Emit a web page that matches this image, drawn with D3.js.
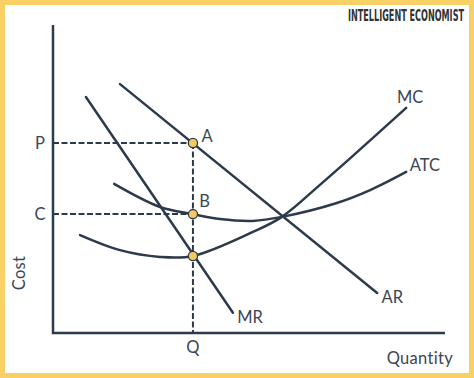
<!DOCTYPE html>
<html>
<head>
<meta charset="utf-8">
<script src="https://cdn.jsdelivr.net/npm/d3@7"></script>
<style>
  html, body { margin: 0; padding: 0; background: #fff; }
  svg { display: block; }
</style>
</head>
<body>
<div id="chart"></div>
<script>
// 曲線資料（以 0~100 的抽象單位表示）
const mcPoints = [[6.9, 31.8], [17.1, 26.9], [27.3, 24.7], [35.7, 25.0], [51.0, 32.8],
                  [58.4, 37.7], [68.1, 48.1], [76.5, 57.5], [90.1, 73.1]];
const atcPoints = [[15.6, 48.4], [27.3, 40.9], [35.7, 38.6], [42.6, 37.0], [51.0, 36.4],
                   [58.4, 37.7], [72.4, 42.2], [80.9, 46.4], [90.1, 52.3]];
const arPoints = [[17.1, 80.8], [82.7, 13.0]];
const mrPoints = [[8.4, 76.6], [45.9, 6.6]];

// 均衡點
const qValue = 35.7;
const pValue = 61.7;
const cValue = 38.6;
const mcAtQ = 25.0;

const curveLabels = [
  { text: "MC", x: 91.1, y: 76.6, anchor: "middle" },
  { text: "ATC", x: 91.0, y: 54.5, anchor: "start" },
  { text: "AR", x: 83.8, y: 11.7, anchor: "start" },
  { text: "MR", x: 47.0, y: 5.2, anchor: "start" }
];
const pointLabels = [
  { text: "A", x: 39.3, y: 63.8 },
  { text: "B", x: 38.7, y: 42.9 }
];

const width = 474, height = 378;
const ink = "#2c3a4b";
const textCol = "#3b4654";

const svg = d3.select("#chart").append("svg")
  .attr("width", width)
  .attr("height", height);

// 黃色外框
svg.append("rect")
  .attr("x", 2.5).attr("y", 2.5)
  .attr("width", width - 5).attr("height", height - 5)
  .attr("fill", "#fff")
  .attr("stroke", "#f8d066")
  .attr("stroke-width", 5);

const x = d3.scaleLinear().domain([0, 100]).range([53, 445]);
const y = d3.scaleLinear().domain([0, 100]).range([333, 25]);

const g = svg.append("g");

// 虛線
const dash = g.append("g")
  .attr("stroke", ink)
  .attr("stroke-width", 2)
  .attr("stroke-dasharray", "6,2.5")
  .attr("fill", "none");
dash.append("line").attr("x1", x(0)).attr("y1", y(pValue)).attr("x2", x(qValue)).attr("y2", y(pValue));
dash.append("line").attr("x1", x(0)).attr("y1", y(cValue)).attr("x2", x(qValue)).attr("y2", y(cValue));
dash.append("line").attr("x1", x(qValue)).attr("y1", y(pValue)).attr("x2", x(qValue)).attr("y2", y(0));

// 座標軸
g.append("path")
  .attr("d", `M${x(0)},${y(100)}V${y(0)}H${x(100)}`)
  .attr("fill", "none")
  .attr("stroke", ink)
  .attr("stroke-width", 2.5);

// 曲線
const smooth = d3.line().x(d => x(d[0])).y(d => y(d[1])).curve(d3.curveCatmullRom.alpha(0.5));
const straight = d3.line().x(d => x(d[0])).y(d => y(d[1]));

[[mcPoints, smooth], [atcPoints, smooth], [arPoints, straight], [mrPoints, straight]]
  .forEach(([pts, gen]) => {
    g.append("path")
      .attr("d", gen(pts))
      .attr("fill", "none")
      .attr("stroke", ink)
      .attr("stroke-width", 2.5)
      .attr("stroke-linecap", "round");
  });

// 黃色圓點
g.append("g").selectAll("circle")
  .data([pValue, cValue, mcAtQ])
  .join("circle")
    .attr("cx", x(qValue))
    .attr("cy", d => y(d))
    .attr("r", 4.6)
    .attr("fill", "#f5c961")
    .attr("stroke", ink)
    .attr("stroke-width", 1.3);

// 文字
const font = "Lato, 'Open Sans', sans-serif";
const label = (txt, px, py, anchor) => g.append("text")
  .attr("x", px).attr("y", py)
  .attr("text-anchor", anchor || "middle")
  .attr("dominant-baseline", "central")
  .attr("fill", textCol)
  .style("font-family", font)
  .style("font-size", "16.5px")
  .text(txt);

curveLabels.forEach(d => label(d.text, x(d.x), y(d.y), d.anchor));
pointLabels.forEach(d => label(d.text, x(d.x), y(d.y), "middle"));

label("P", 40, y(pValue));
label("C", 40, y(cValue));
label("Q", x(qValue), 347);
label("Quantity", 453, 358, "end").style("letter-spacing", "0.3px");
label("Cost", 0, 0)
  .attr("transform", `translate(19,273) rotate(-90)`)
  .style("letter-spacing", "0.3px");

// 標題
svg.append("text")
  .attr("x", 464).attr("y", 21)
  .attr("text-anchor", "end")
  .attr("fill", "#333")
  .attr("textLength", 116)
  .attr("lengthAdjust", "spacingAndGlyphs")
  .style("font-family", "'Liberation Sans Narrow', 'DejaVu Sans Condensed', sans-serif")
  .style("font-weight", "bold")
  .style("font-size", "15px")
  .text("INTELLIGENT ECONOMIST");
</script>
</body>
</html>
